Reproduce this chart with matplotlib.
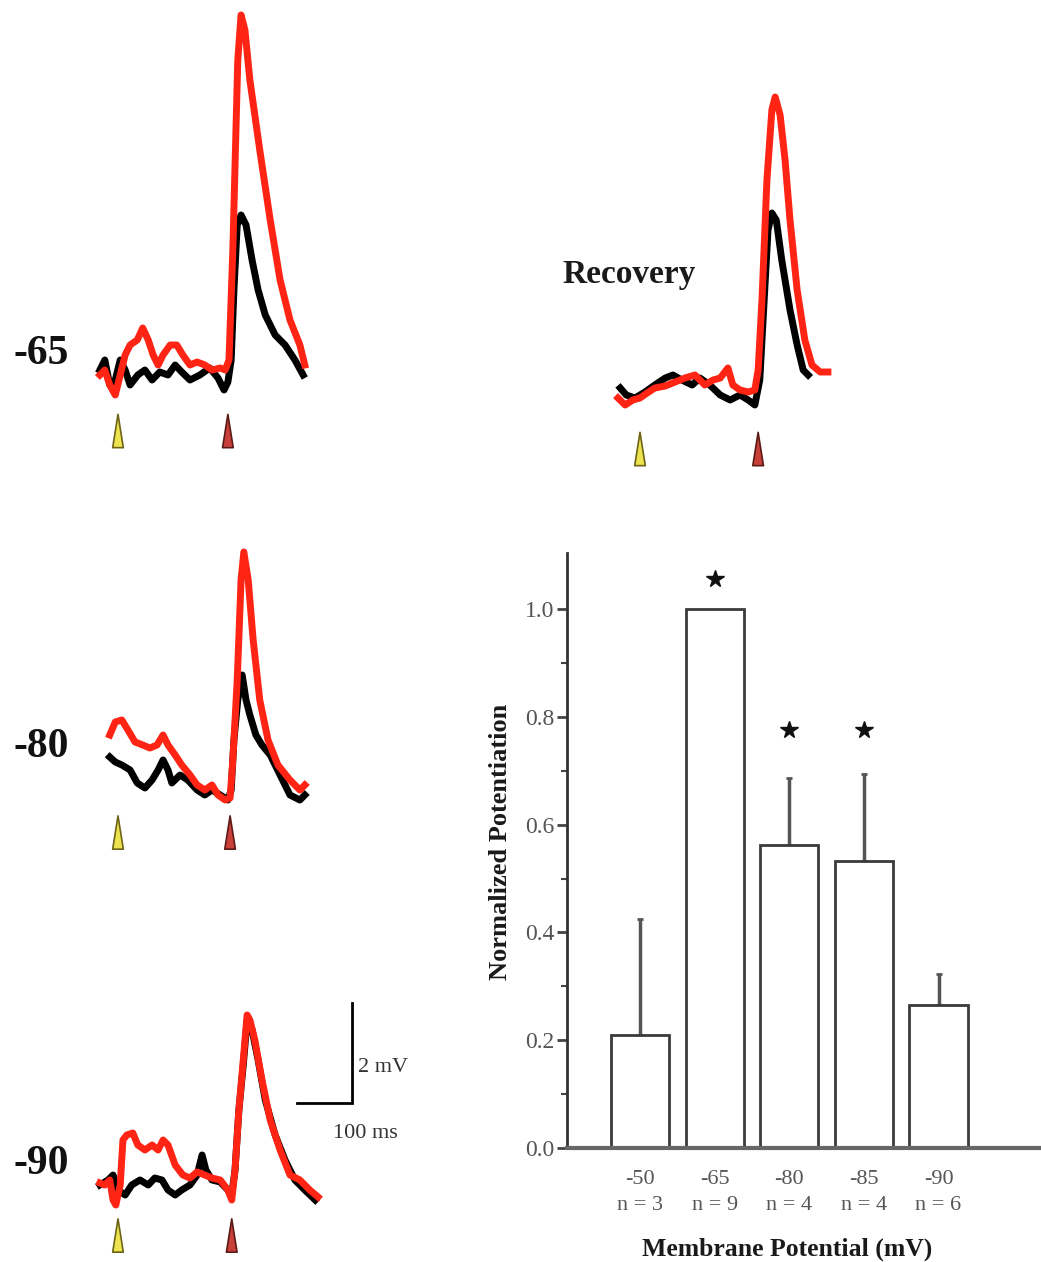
import matplotlib
matplotlib.use("Agg")
import matplotlib.pyplot as plt
from matplotlib.path import Path

W, H = 1041, 1262
MS_PER_PX = 1.82     # 100 ms scale bar = 55 px
PX_PER_MV = 50.0     # 2 mV scale bar = 100 px

RED = "#ff2414"
SERIF = ["Liberation Serif", "DejaVu Serif"]

# ---- traces: time in ms (first stimulus at 0), voltage in mV from baseline ----
# -65 mV
t65_red = [-33, -24, -15, -5, 4, 13, 22, 35, 45, 55, 64, 73, 82, 95, 107, 118, 131, 144,
           158, 171, 186, 195, 202, 209, 218, 224, 231, 240, 258, 277, 295, 313, 331, 340]
v65_red = [0.0, 0.1, -0.2, -0.4, 0.0, 0.4, 0.6, 0.7, 0.94, 0.7, 0.4, 0.2, 0.4, 0.6, 0.6, 0.4,
           0.2, 0.26, 0.2, 0.1, 0.14, 0.1, 0.3, 2.5, 6.3, 7.2, 6.9, 5.9, 4.5, 3.1, 1.9, 1.1, 0.6, 0.2]
t65_blk = [-33, -24, -15, -5, 4, 13, 22, 36, 49, 62, 76, 91, 104, 116, 131, 149, 167, 182,
           193, 200, 206, 211, 217, 224, 233, 244, 255, 268, 286, 304, 322, 337]
v65_blk = [0.1, 0.3, -0.2, -0.1, 0.3, 0.1, -0.2, 0.0, 0.1, -0.1, 0.06, 0.0, 0.2, 0.06, -0.1,
           0.0, 0.14, -0.06, -0.3, -0.14, 0.3, 1.7, 3.0, 3.2, 3.0, 2.3, 1.7, 1.2, 0.8, 0.6, 0.3, 0.0]

# -80 mV
t80_red = [-15, -5, 7, 18, 31, 45, 58, 71, 82, 91, 104, 116, 131, 144, 158, 171, 182, 195,
           204, 209, 217, 224, 229, 237, 246, 258, 273, 291, 313, 331, 340]
v80_red = [0.5, 0.76, 0.8, 0.6, 0.36, 0.3, 0.24, 0.3, 0.5, 0.3, 0.1, -0.1, -0.3, -0.5, -0.6,
           -0.5, -0.7, -0.8, -0.76, 0.0, 1.6, 3.6, 4.16, 3.6, 2.4, 1.2, 0.4, -0.1, -0.4, -0.6, -0.5]
t80_blk = [-15, -5, 7, 22, 35, 49, 62, 73, 82, 91, 98, 113, 127, 144, 158, 171, 186, 200,
           206, 211, 218, 226, 233, 240, 251, 262, 277, 295, 313, 331, 340]
v80_blk = [0.06, -0.04, -0.1, -0.2, -0.46, -0.56, -0.4, -0.2, 0.0, -0.2, -0.46, -0.3, -0.4,
           -0.6, -0.7, -0.6, -0.7, -0.8, -0.6, 0.4, 1.2, 1.7, 1.2, 0.9, 0.5, 0.3, 0.1, -0.3,
           -0.7, -0.8, -0.7]

# -90 mV
t90_red = [-33, -24, -15, -9, -4, 4, 9, 16, 27, 36, 49, 62, 73, 82, 91, 104, 118, 131, 144,
           158, 171, 186, 200, 207, 213, 220, 228, 235, 240, 249, 262, 277, 295, 313, 331, 349, 364]
v90_red = [0.0, -0.04, 0.06, -0.34, -0.44, -0.04, 0.86, 0.96, 1.0, 0.76, 0.66, 0.76, 0.66,
           0.86, 0.76, 0.36, 0.16, 0.1, 0.22, 0.16, 0.1, 0.06, -0.14, -0.34, 0.26, 1.46, 2.46,
           3.36, 3.26, 2.86, 2.06, 1.26, 0.66, 0.16, 0.06, -0.14, -0.28]
t90_blk = [-33, -18, -9, 0, 13, 25, 40, 55, 67, 80, 91, 104, 116, 131, 144, 153, 160, 171,
           186, 200, 207, 213, 220, 228, 235, 244, 255, 268, 286, 304, 322, 340, 359]
v90_blk = [-0.04, 0.06, 0.16, -0.14, -0.24, -0.04, 0.06, -0.04, 0.1, 0.06, -0.14, -0.24,
           -0.14, -0.04, 0.16, 0.56, 0.26, 0.06, 0.02, -0.14, -0.24, 0.26, 1.46, 2.36, 3.26,
           3.06, 2.46, 1.66, 0.96, 0.46, 0.06, -0.14, -0.34]

# Recovery
trec_red = [-40, -27, -13, 0, 13, 27, 46, 64, 82, 100, 118, 133, 146, 160, 169, 182, 197,
            209, 215, 222, 231, 240, 246, 255, 264, 273, 286, 300, 313, 328, 342]
vrec_red = [-0.06, -0.2, -0.1, -0.06, 0.04, 0.14, 0.18, 0.26, 0.34, 0.4, 0.2, 0.3, 0.34, 0.54,
            0.2, 0.1, 0.06, 0.1, 0.5, 1.9, 4.3, 5.7, 5.96, 5.6, 4.7, 3.5, 2.1, 1.1, 0.6, 0.46, 0.46]
trec_blk = [-36, -25, -9, 9, 27, 46, 60, 76, 95, 109, 127, 146, 164, 182, 197, 209, 218, 226,
            233, 240, 248, 258, 273, 286, 297, 306]
vrec_blk = [0.14, 0.0, -0.06, 0.06, 0.2, 0.34, 0.4, 0.3, 0.2, 0.34, 0.2, 0.0, -0.1, 0.0, -0.1,
            -0.2, 0.3, 1.9, 3.3, 3.64, 3.5, 2.7, 1.7, 1.0, 0.5, 0.4]

# stimulus times (ms): conditioning (yellow) and test (red)
stim65 = [0, 200]
stim80 = [0, 204]
stim90 = [0, 207]
stimrec = [0, 215]

# ---- bar chart data ----
potentials = ["-50", "-65", "-80", "-85", "-90"]
n_cells = [3, 9, 4, 4, 6]
potentiation = [0.21, 1.0, 0.562, 0.532, 0.265]
sem = [0.215, 0.0, 0.124, 0.162, 0.058]
star_y = [None, 1.055, 0.776, 0.776, None]

fig = plt.figure(figsize=(W / 100, H / 100), dpi=100)

# triangular stimulus marker
arrow = Path([(-0.32, -1), (0.32, -1), (0, 1), (-0.32, -1)],
             [Path.MOVETO, Path.LINETO, Path.LINETO, Path.CLOSEPOLY])


def trace_axes(x0, y0, left=45, right=330, up=400, down=100):
    # axes box in pixels around the panel origin (first stimulus, baseline)
    l, r, t, b = x0 - left, x0 + right, y0 - up, y0 + down
    ax = fig.add_axes([l / W, 1 - b / H, (r - l) / W, (b - t) / H])
    ax.set_xlim(-left * MS_PER_PX, right * MS_PER_PX)
    ax.set_ylim(-down / PX_PER_MV, up / PX_PER_MV)
    ax.axis("off")
    return ax


def draw_panel(ax, t_blk, v_blk, t_red, v_red, stims, arrow_v):
    ax.plot(t_blk, v_blk, color="black", lw=5, solid_joinstyle="round")
    ax.plot(t_red, v_red, color=RED, lw=5, solid_joinstyle="round")
    ax.scatter(stims, [arrow_v, arrow_v], marker=arrow, s=[24 ** 2, 24 ** 2],
               c=["#ece34f", "#c9403a"], edgecolors=["#6e6418", "#5a1a16"],
               linewidths=1.2, zorder=5, clip_on=False)


ax65 = trace_axes(118, 375)
draw_panel(ax65, t65_blk, v65_blk, t65_red, v65_red, stim65, -1.12)
ax80 = trace_axes(118, 760)
draw_panel(ax80, t80_blk, v80_blk, t80_red, v80_red, stim80, -1.45)
ax90 = trace_axes(118, 1183)
draw_panel(ax90, t90_blk, v90_blk, t90_red, v90_red, stim90, -1.05)
axrec = trace_axes(640, 395)
draw_panel(axrec, trec_blk, vrec_blk, trec_red, vrec_red, stimrec, -1.08)

# panel labels
for label, y in [("-65", 354), ("-80", 747), ("-90", 1164)]:
    fig.text(41 / W, 1 - y / H, label, family=SERIF, weight="bold", fontsize=30,
             ha="center", va="center", color="#111111")
fig.text(562 / W, 1 - 274 / H, "Recovery", family=SERIF, weight="bold", fontsize=24,
         ha="left", va="center", color="#1a1a1a")

# scale bar on the -90 panel
sb_t, sb_v = 426, 1.6
ax90.plot([sb_t - 100, sb_t, sb_t], [sb_v, sb_v, sb_v + 2], color="black", lw=2,
          solid_joinstyle="miter", clip_on=False)
ax90.text(sb_t + 10, sb_v + 0.72, "2 mV", family=SERIF, fontsize=16, ha="left",
          va="center", color="#333333")
ax90.text(sb_t + 24, sb_v - 0.6, "100 ms", family=SERIF, fontsize=16, ha="center",
          va="center", color="#333333")

# ---- bar chart ----
axb = fig.add_axes([567 / W, 1 - 1148 / H, (1040 - 567) / W, (1148 - 553) / H])
x = list(range(len(potentials)))
axb.bar(x, potentiation, width=0.78, color="white", edgecolor="#3a3a3a", linewidth=2,
        zorder=2)
err_x = [i for i in x if sem[i] > 0]
axb.errorbar(err_x, [potentiation[i] for i in err_x],
             yerr=[[0] * len(err_x), [sem[i] for i in err_x]], fmt="none",
             ecolor="#555555", elinewidth=2.5, capsize=2, capthick=2, zorder=1)
for i, sy in enumerate(star_y):
    if sy is not None:
        axb.plot(i, sy, marker="*", color="#111111", markersize=13, linestyle="none")

axb.set_xlim(-0.98, 5.36)
axb.set_ylim(0, 1.104)
axb.spines["top"].set_visible(False)
axb.spines["right"].set_visible(False)
axb.spines["left"].set_color("#333333")
axb.spines["left"].set_linewidth(2)
axb.spines["bottom"].set_color("#666666")
axb.spines["bottom"].set_linewidth(3)

axb.set_yticks([0.0, 0.2, 0.4, 0.6, 0.8, 1.0])
axb.set_yticks([0.1, 0.3, 0.5, 0.7, 0.9], minor=True)
axb.set_yticklabels(["0.0", "0.2", "0.4", "0.6", "0.8", "1.0"], family=SERIF,
                    fontsize=17, color="#555555")
axb.tick_params(axis="y", which="major", length=7, width=2, color="#444444", pad=2)
axb.tick_params(axis="y", which="minor", length=4, width=1.5, color="#444444")

axb.set_xticks(x)
axb.set_xticklabels([f"{p}\nn = {n}" for p, n in zip(potentials, n_cells)], family=SERIF,
                    fontsize=16, color="#555555", linespacing=1.45)
axb.tick_params(axis="x", length=0, pad=16)

axb.set_xlabel("Membrane Potential (mV)", family=SERIF, weight="bold", fontsize=18.5,
               color="#1a1a1a")
axb.set_ylabel("Normalized Potentiation", family=SERIF, weight="bold", fontsize=19,
               color="#1a1a1a")
axb.xaxis.set_label_coords(0.465, -0.151)
axb.yaxis.set_label_coords(-0.116, 0.514)

fig.savefig("out.png", dpi=100)
